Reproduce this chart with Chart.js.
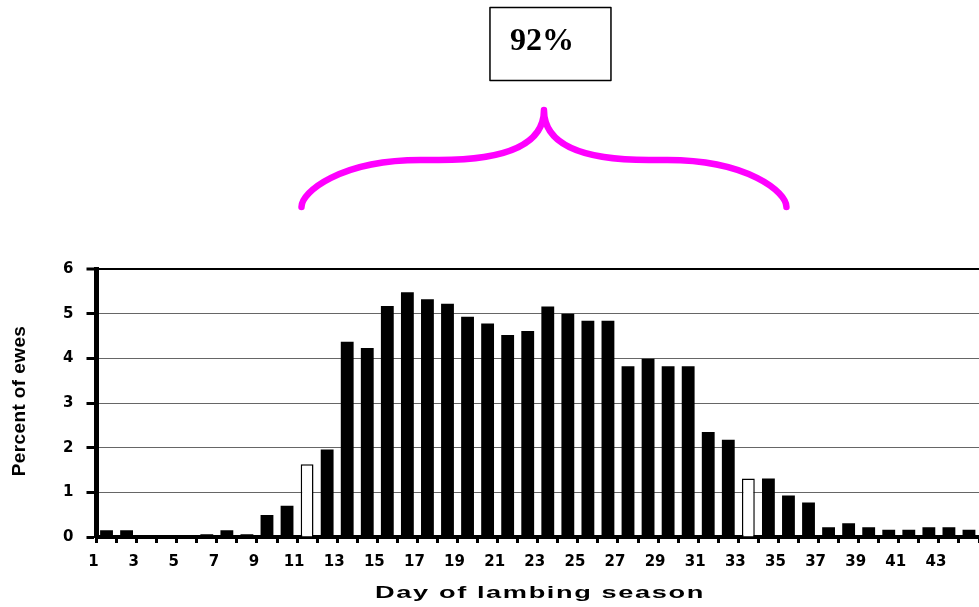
<!DOCTYPE html>
<html lang="en">
<head>
  <meta charset="UTF-8" />
  <title>Day of lambing season</title>
  <script src="https://cdn.jsdelivr.net/npm/chart.js"></script>
  <style>
    body {
      margin: 0;
      background: #ffffff;
    }

    #wrap {
      width: 979px;
      height: 607px;
    }
  </style>
</head>
<body>

  <div id="wrap"><canvas id="chart" width="979" height="607"></canvas></div>

  <script>
    // day of the lambing season (categories)
    const days = ['1','2','3','4','5','6','7','8','9','10','11','12','13','14','15','16','17','18','19','20','21','22',
                  '23','24','25','26','27','28','29','30','31','32','33','34','35','36','37','38','39','40','41','42','43','44'];

    // percent of ewes lambing each day
    const percentEwes = [0.15, 0.15, 0, 0, 0, 0.06, 0.15, 0.06, 0.49, 0.70, 1.63, 1.96, 4.37, 4.23, 5.17, 5.48, 5.32, 5.22, 4.93, 4.78, 4.52, 4.61,
                         5.16, 5.00, 4.84, 4.84, 3.82, 3.99, 3.82, 3.82, 2.35, 2.18, 1.31, 1.31, 0.93, 0.77, 0.22, 0.31, 0.22, 0.16, 0.16, 0.22, 0.22, 0.16];

    // days drawn as open (white) bars
    const hollowDays = ['11', '33'];

    // labels printed under the x axis
    const dayTickLabels = ['1','3','5','7','9','11','13','15','17','19','21','23','25','27','29','31','33','35','37','39','41','43'];

    const yTitle = 'Percent of ewes';
    const xTitle = 'Day of lambing season';
    const spanText = '92%';

    // brace + box + axis titles
    const overlay = {
      id: 'overlay',
      afterDraw(chart) {
        const ctx = chart.ctx;
        const x = chart.scales.x;
        ctx.save();

        // magenta brace over the main lambing period
        const left = x.getPixelForValue(days.indexOf('11') - 0.28);
        const right = x.getPixelForValue(days.indexOf('35') - 0.1);
        const mid = (left + right) / 2;
        const yEnd = 207, yBar = 160, yTop = 110;
        ctx.strokeStyle = '#ff00ff';
        ctx.lineWidth = 6.5;
        ctx.lineCap = 'round';
        ctx.lineJoin = 'round';
        ctx.beginPath();
        ctx.moveTo(left, yEnd);
        ctx.bezierCurveTo(left, yBar + 32, left + 39, yBar, left + 119, yBar);
        ctx.lineTo(mid - 105, yBar);
        ctx.bezierCurveTo(mid - 40, yBar, mid, yTop + 35, mid, yTop);
        ctx.bezierCurveTo(mid, yTop + 35, mid + 40, yBar, mid + 105, yBar);
        ctx.lineTo(right - 119, yBar);
        ctx.bezierCurveTo(right - 39, yBar, right, yBar + 32, right, yEnd);
        ctx.stroke();

        // box with the share
        ctx.lineWidth = 1.5;
        ctx.strokeStyle = '#000';
        ctx.strokeRect(mid - 54, 7.5, 121, 73);
        ctx.fillStyle = '#000';
        ctx.font = 'bold 32px "Liberation Serif"';
        ctx.textAlign = 'center';
        ctx.textBaseline = 'alphabetic';
        ctx.fillText(spanText, mid - 2, 50);

        // x title (wide, stretched look)
        ctx.save();
        ctx.translate(540, 598);
        ctx.scale(1.6, 1);
        ctx.font = 'bold 17px "Liberation Sans"';
        ctx.letterSpacing = '1px';
        ctx.fillText(xTitle, 0, 0);
        ctx.restore();

        // y title
        ctx.save();
        ctx.translate(25, 401);
        ctx.rotate(-Math.PI / 2);
        ctx.font = 'bold 19px "Liberation Sans"';
        ctx.letterSpacing = '0.4px';
        ctx.fillText(yTitle, 0, 0);
        ctx.restore();

        ctx.restore();
      }
    };

    const tickFont = { family: 'DejaVu Sans', weight: 'bold', size: 15 };

    new Chart(document.getElementById('chart'), {
      type: 'bar',
      data: {
        labels: days,
        datasets: [{
          data: percentEwes,
          backgroundColor: days.map(d => hollowDays.includes(d) ? '#ffffff' : '#000000'),
          borderColor: '#000000',
          borderWidth: days.map(d => hollowDays.includes(d) ? 1.5 : 0),
          barPercentage: 0.64,
          categoryPercentage: 1.0
        }]
      },
      options: {
        responsive: false,
        animation: false,
        layout: { padding: { top: 269, right: 0, bottom: 0, left: 0 } },
        plugins: { legend: { display: false }, tooltip: { enabled: false } },
        scales: {
          x: {
            grid: { drawOnChartArea: false, drawTicks: true, tickLength: 6, tickWidth: 3, tickColor: '#000', offset: true },
            border: { color: '#000', width: 4 },
            ticks: {
              autoSkip: false,
              maxRotation: 0,
              labelOffset: -13,
              padding: 10,
              color: '#000',
              font: tickFont,
              callback: (v, i) => dayTickLabels.includes(days[i]) ? days[i] : ''
            },
            afterFit: s => { s.height = 70; }
          },
          y: {
            min: 0,
            max: 6,
            ticks: { stepSize: 1, padding: 13, color: '#000', font: tickFont },
            grid: {
              color: c => (c.tick && c.tick.value === 6) ? '#000' : '#666',
              lineWidth: c => (c.tick && c.tick.value === 6) ? 2 : 1,
              tickLength: 10,
              tickWidth: 3,
              tickColor: '#000'
            },
            border: { color: '#000', width: 5 },
            afterFit: s => { s.width = 96.5; }
          }
        }
      },
      plugins: [overlay]
    });
  </script>
</body>
</html>
